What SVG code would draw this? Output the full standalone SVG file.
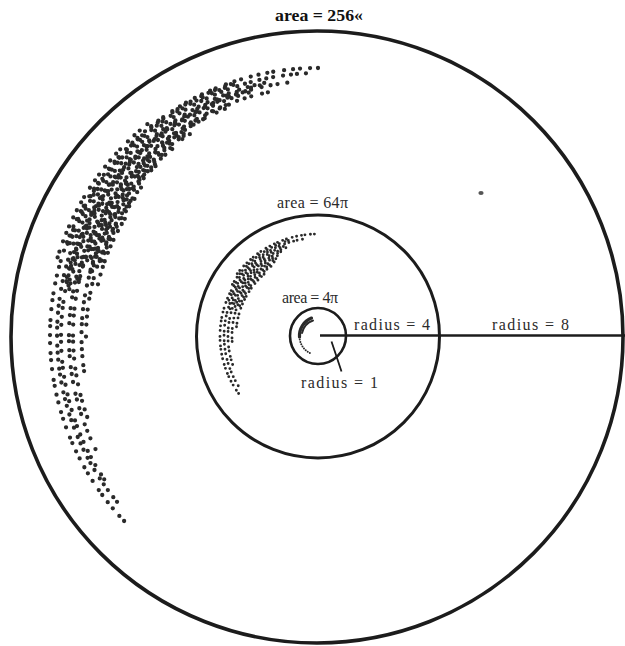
<svg xmlns="http://www.w3.org/2000/svg" width="625" height="646" viewBox="0 0 625 646">
<style>
.ring{fill:none;stroke:#1c1c1c}
.lbl{font-family:"Liberation Serif","Times New Roman",serif;font-size:16px;fill:#2b2b2b}
.ttl{font-family:"Liberation Serif","Times New Roman",serif;font-size:17px;font-weight:bold;fill:#111}
.big{fill:none;stroke:#2a2a2a;stroke-width:4.3;stroke-linecap:round}
.da{stroke-dasharray:0 8 0 10 0 7 0 9 0 11 0 6 0 9}
.db{stroke-dasharray:0 7 0 9 0 6 0 8 0 10 0 7}
.dc{stroke-dasharray:0 9 0 6 0 11 0 7 0 8 0 12 0 6}
.dd{stroke-dasharray:0 13 0 9 0 15 0 11 0 10}
.mid{fill:none;stroke:#2a2a2a;stroke-width:2.9;stroke-linecap:round;stroke-dasharray:0 4 0 5.5 0 3.5 0 5 0 4.5 0 6}
.mid2{fill:none;stroke:#2a2a2a;stroke-width:2.9;stroke-linecap:round;stroke-dasharray:0 5 0 3.5 0 6 0 4 0 4.5}
.conn{fill:none;stroke:#1c1c1c;stroke-linecap:butt}
</style>
<rect width="625" height="646" fill="#fff"/>
<text class="ttl" x="275" y="21" textLength="88" lengthAdjust="spacingAndGlyphs">area = 256«</text>

<g id="outer-circle">
<circle class="ring" cx="317" cy="337" r="306" stroke-width="3.6"/>
<text class="lbl" x="492" y="330" textLength="77" lengthAdjust="spacing">radius = 8</text>
</g>

<g id="middle-circle">
<circle class="ring" cx="318" cy="336.5" r="121.5" stroke-width="3"/>
<text class="lbl" x="277" y="208" textLength="71" lengthAdjust="spacing">area = 64π</text>
<text class="lbl" x="354" y="330" textLength="76" lengthAdjust="spacing">radius = 4</text>
</g>

<g id="inner-circle">
<circle class="ring" cx="318" cy="336" r="28" stroke-width="2.6"/>
<text class="lbl" x="282" y="303" textLength="56" lengthAdjust="spacing">area = 4π</text>
<text class="lbl" x="301" y="388" textLength="77" lengthAdjust="spacing">radius = 1</text>
</g>

<g id="outer-cluster">
<path class="big da" d="M318 68 A268 268 0 0 0 128.5 525.5"/>
<path class="big db" style="stroke-dashoffset:3" transform="translate(1,-1)" d="M308.9 74.2 A262 262 0 0 0 120.3 507.9"/>
<path class="big da" style="stroke-dashoffset:5" transform="translate(-1,1)" d="M291.2 81.4 A256 256 0 0 0 105.8 479.2"/>
<path class="big dc" style="stroke-dashoffset:1" transform="translate(1,1)" d="M274.6 89.8 A250 250 0 0 0 95.2 449.5"/>
<path class="big da" style="stroke-dashoffset:12" transform="translate(-1,-1)" d="M211 116.7 A244 244 0 0 0 88.7 419.4"/>
<path class="big db" style="stroke-dashoffset:6" transform="translate(1.5,0)" d="M171.5 148.5 A238 238 0 0 0 83.6 377.3"/>
<path class="big dc" style="stroke-dashoffset:2" transform="translate(0,1.5)" d="M145.6 180.8 A232 232 0 0 0 86 336"/>
<path class="big db" style="stroke-dashoffset:9" d="M128.5 212.9 A226 226 0 0 0 97.8 285.1"/>
<path class="big da" style="stroke-dashoffset:4" d="M150.5 121.7 A272 272 0 0 0 55.3 265.6"/>
<path class="big db" style="stroke-dashoffset:4" d="M236.1 84 A265 265 0 0 0 69 245.4"/>
<path class="big da" style="stroke-dashoffset:7" transform="translate(1,0)" d="M264.2 82.7 A259 259 0 0 0 64.7 282.2"/>
<path class="big dc" style="stroke-dashoffset:11" d="M252.5 91.6 A253 253 0 0 0 68.8 292.1"/>
<path class="big da" style="stroke-dashoffset:3" transform="translate(0,-1)" d="M233.5 103.9 A247 247 0 0 0 77.3 280.4"/>
<path class="big db" style="stroke-dashoffset:8" d="M190.3 131.6 A241 241 0 0 0 87.5 265.5"/>
<path class="big dc" style="stroke-dashoffset:6" d="M157.7 164.1 A235 235 0 0 0 92.1 271.2"/>
<path class="big db" style="stroke-dashoffset:2" d="M137.5 195 A229 229 0 0 0 100.2 265.2"/>
<path class="big dc" style="stroke-dashoffset:5" transform="translate(-1.5,-1.2)" d="M236.1 84 A265 265 0 0 0 69 245.4"/>
<path class="big da" style="stroke-dashoffset:9" transform="translate(-1.2,-1.6)" d="M252.5 91.6 A253 253 0 0 0 68.8 292.1"/>
<path class="big dc" style="stroke-dashoffset:3" transform="translate(-1.6,-1)" d="M190.3 131.6 A241 241 0 0 0 87.5 265.5"/>
<path class="big db" style="stroke-dashoffset:10" transform="translate(-1.4,-1.4)" d="M137.5 195 A229 229 0 0 0 100.2 265.2"/>
<path class="big da" style="stroke-dashoffset:1" transform="translate(-1.5,-1.5)" d="M157.7 164.1 A235 235 0 0 0 92.1 271.2"/>
<path class="big dd" style="stroke-dashoffset:7" transform="translate(1.4,1.3)" d="M264.2 82.7 A259 259 0 0 0 64.7 282.2"/>
<path class="big dd" style="stroke-dashoffset:2" transform="translate(1.5,1.1)" d="M233.5 103.9 A247 247 0 0 0 77.3 280.4"/>
<path class="big dd" style="stroke-dashoffset:11" transform="translate(1.2,1.5)" d="M190.3 131.6 A241 241 0 0 0 87.5 265.5"/>
</g>

<g id="middle-cluster">
<path class="mid" d="M314.4 234.1 A102 102 0 0 0 234.4 277.5"/>
<path class="mid" style="stroke-dashoffset:2" d="M304.4 239 A98 98 0 0 0 239.7 395"/>
<path class="mid" style="stroke-dashoffset:4" d="M285.9 247.7 A94 94 0 0 0 238.3 385.8"/>
<path class="mid" style="stroke-dashoffset:1" d="M280 254.4 A90 90 0 0 0 233.4 366.8"/>
<path class="mid" style="stroke-dashoffset:3" d="M275 261.5 A86 86 0 0 0 232.3 343.5"/>
<path class="mid" style="stroke-dashoffset:5" d="M267.5 271.4 A82 82 0 0 0 236.3 328.9"/>
<path class="mid2" style="stroke-dashoffset:1" d="M292.1 239.4 A100 100 0 0 0 231.4 286"/>
<path class="mid2" style="stroke-dashoffset:3" d="M285.2 245.8 A96 96 0 0 0 227.8 303.2"/>
<path class="mid2" style="stroke-dashoffset:2" d="M283.5 250.7 A92 92 0 0 0 229.1 312.2"/>
<path class="mid2" style="stroke-dashoffset:4" d="M276.7 258.3 A88 88 0 0 0 234.3 308.8"/>
<path class="mid2" style="stroke-dashoffset:0" d="M271 266.4 A84 84 0 0 0 239.1 307.3"/>
</g>

<g id="inner-cluster">
<path d="M311.5 318.1 A19 19 0 0 0 299.5 337" fill="none" stroke="#2a2a2a" stroke-width="3.2" stroke-linecap="round"/>
<path d="M313 320.5 A17 17 0 0 0 302 333" fill="none" stroke="#2a2a2a" stroke-width="2" stroke-linecap="round"/>
<path d="M299.5 337 A19 19 0 0 0 310 353.2" fill="none" stroke="#2a2a2a" stroke-width="2" stroke-linecap="round" stroke-dasharray="0 2.5"/>
</g>

<ellipse id="smudge" cx="481" cy="193" rx="2.6" ry="2" fill="#555"/>

<g id="connectors">
<line class="conn" x1="320" y1="335.5" x2="625" y2="335.5" stroke-width="2.6"/>
<line class="conn" x1="331.5" y1="341.5" x2="341.5" y2="371.5" stroke-width="1.8"/>
</g>
</svg>
